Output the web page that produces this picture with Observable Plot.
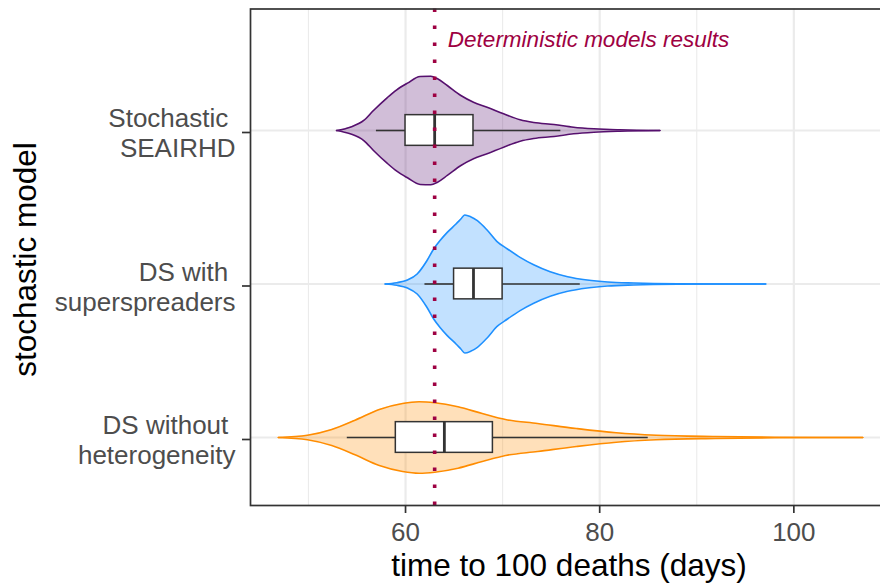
<!DOCTYPE html>
<html><head><meta charset="utf-8">
<script src="https://cdn.jsdelivr.net/npm/d3@7"></script>
<script src="https://cdn.jsdelivr.net/npm/@observablehq/plot@0.6"></script>
<style>html,body{margin:0;padding:0;background:#fff;overflow:hidden}</style>
</head><body><div id="chart"></div>
<script>
// categories (top to bottom)
const models = ["Stochastic SEAIRHD", "DS with superspreaders", "DS without heterogeneity"];
const modelLabels = ["Stochastic\u00A0\nSEAIRHD", "DS with\u00A0\nsuperspreaders", "DS without\u00A0\nheterogeneity"];
const modelColors = ["#56106E", "#1E90FF", "#FF8C00"];

// violin outlines: day value and relative density (widest violin = 1)
const seairhdDays    = [52.9, 54.3, 55.7, 56.7, 58.1, 59.1, 60.2, 61.5, 62.6, 63.3, 64.3, 65.7, 67.0, 68.4, 70.1, 71.8, 73.2, 75.3, 77.3, 79.4, 82.1, 86.2];
const seairhdDensity = [0, 0.048, 0.145, 0.289, 0.473, 0.589, 0.685, 0.781, 0.786, 0.748, 0.651, 0.507, 0.410, 0.337, 0.242, 0.155, 0.116, 0.087, 0.048, 0.025, 0.010, 0];
const superDays      = [57.9, 59.1, 60.2, 61.2, 62.2, 62.9, 63.6, 64.3, 65.2, 65.7, 66.1, 66.7, 67.4, 68.4, 69.4, 70.5, 71.8, 73.2, 74.9, 76.7, 78.7, 80.8, 83.5, 88.0, 97.1];
const superDensity   = [0, 0.019, 0.058, 0.145, 0.337, 0.507, 0.637, 0.748, 0.868, 0.941, 0.999, 0.974, 0.916, 0.781, 0.618, 0.507, 0.386, 0.279, 0.178, 0.106, 0.058, 0.029, 0.014, 0.004, 0];
const homogDays      = [46.9, 49.9, 52.4, 54.8, 57.3, 59.7, 61.4, 63.0, 65.4, 67.9, 70.3, 73.6, 77.6, 81.7, 85.8, 91.9, 98.0, 107.1];
const homogDensity   = [0, 0.033, 0.116, 0.250, 0.405, 0.492, 0.517, 0.502, 0.444, 0.347, 0.260, 0.203, 0.130, 0.068, 0.033, 0.014, 0.004, 0];

// boxplot statistics
const whiskerLow  = [57, 62, 54];
const quartile1   = [60, 65, 59];
const medians     = [63, 67, 64];
const quartile3   = [67, 70, 69];
const whiskerHigh = [76, 78, 85];

const deterministicResult = 63;
const annotationText = "Deterministic models results";
const xTicks = [60, 80, 100];
const xMinorTicks = [50, 70, 90];
const xTitle = "time to 100 deaths (days)";
const yTitle = "stochastic model";

// build tables
const violinDays = [seairhdDays, superDays, homogDays];
const violinDensity = [seairhdDensity, superDensity, homogDensity];
const violinHalf = 0.45; // ggplot default violin width 0.9
const violinRows = [];
models.forEach((m, i) => {
  violinDays[i].forEach((d, j) => {
    const w = violinDensity[i][j] * violinHalf;
    violinRows.push({model: m, pos: i + 1, day: d, lo: i + 1 - w, hi: i + 1 + w});
  });
});
const boxHalf = 0.1;
const boxRows = models.map((m, i) => ({
  model: m, pos: i + 1,
  lo: whiskerLow[i], q1: quartile1[i], med: medians[i], q3: quartile3[i], hi: whiskerHigh[i]
}));

const font = "'Liberation Sans', Arial, Helvetica, sans-serif";
const dark = "#333333";

const chart = Plot.plot({
  width: 880,
  height: 585,
  marginLeft: 250,
  marginRight: -11,
  marginTop: 8.5,
  marginBottom: 80,
  style: {fontFamily: font, background: "white", overflow: "hidden"},
  x: {domain: [44.03, 110.06]},
  y: {domain: [0.2085, 3.443], reverse: true},
  color: {domain: models, range: modelColors},
  marks: [
    Plot.gridX(xMinorTicks, {stroke: "#EBEBEB", strokeOpacity: 1, strokeWidth: 1.1}),
    Plot.gridX(xTicks, {stroke: "#EBEBEB", strokeOpacity: 1, strokeWidth: 2.2}),
    Plot.gridY([1, 2, 3], {stroke: "#EBEBEB", strokeOpacity: 1, strokeWidth: 2.2}),
    Plot.area(violinRows, {
      x1: "day", y1: "lo", y2: "hi", z: "model",
      fill: "model", fillOpacity: 0.27, curve: "monotone-x"
    }),
    Plot.line(violinRows, {x: "day", y: "lo", z: "model", stroke: "model", strokeWidth: 1.6, curve: "monotone-x"}),
    Plot.line(violinRows, {x: "day", y: "hi", z: "model", stroke: "model", strokeWidth: 1.6, curve: "monotone-x"}),
    Plot.ruleY(boxRows, {y: "pos", x1: "lo", x2: "q1", stroke: dark, strokeWidth: 1.6}),
    Plot.ruleY(boxRows, {y: "pos", x1: "q3", x2: "hi", stroke: dark, strokeWidth: 1.6}),
    Plot.rect(boxRows, {
      x1: "q1", x2: "q3", y1: d => d.pos - boxHalf, y2: d => d.pos + boxHalf,
      fill: "white", stroke: dark, strokeWidth: 1.5
    }),
    Plot.ruleX(boxRows, {x: "med", y1: d => d.pos - boxHalf, y2: d => d.pos + boxHalf, stroke: dark, strokeWidth: 2.8}),
    Plot.ruleX([deterministicResult], {stroke: "#9E0142", strokeWidth: 3.6, strokeDasharray: "3.4,13.6"}),
    Plot.text([annotationText], {
      x: () => deterministicResult, frameAnchor: "top", text: d => d,
      textAnchor: "start", lineAnchor: "middle", dx: 13.2, dy: 30.3,
      fontSize: 22.5, fontStyle: "italic", fill: "#9E0142"
    }),
    Plot.frame({stroke: dark, strokeWidth: 1.7}),
    Plot.axisX({
      ticks: xTicks, tickSize: 8, tickPadding: 9, fontSize: 26,
      fill: "#4D4D4D", stroke: dark, strokeWidth: 1.7, label: null
    }),
    Plot.axisY({
      ticks: [1, 2, 3], tickFormat: v => modelLabels[v - 1],
      tickSize: 8, tickPadding: 7, fontSize: 26, lineHeight: 1.173, dy: 2,
      fill: "#4D4D4D", stroke: dark, strokeWidth: 1.7, label: null
    }),
    Plot.text([xTitle], {
      frameAnchor: "bottom", text: d => d, lineAnchor: "middle", textAnchor: "middle",
      dy: 60, dx: -2, fontSize: 31.5, fill: "black"
    }),
    Plot.text([yTitle], {
      frameAnchor: "left", text: d => d, rotate: -90, lineAnchor: "middle", textAnchor: "middle",
      dx: -225, dy: 2.3, fontSize: 31.5, fill: "black"
    })
  ]
});
document.getElementById("chart").appendChild(chart);
</script>
</body></html>
